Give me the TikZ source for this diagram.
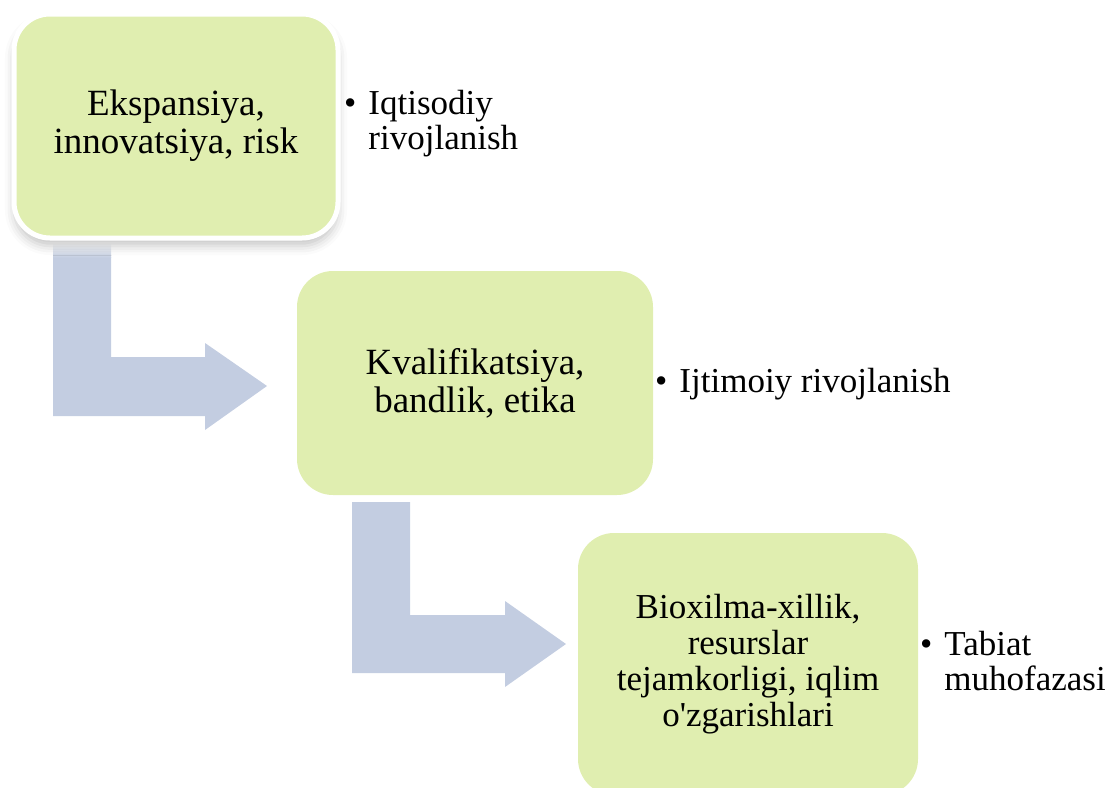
\documentclass[tikz,border=0pt]{standalone}
\usepackage{fontspec}
\setmainfont{Liberation Serif}
\usepackage{tikz}
\usetikzlibrary{shadows.blur}

\definecolor{boxgreen}{RGB}{224,238,176}
\definecolor{arrowblue}{RGB}{195,205,225}

\begin{document}
\begin{tikzpicture}[x=1pt,y=-1pt]
      \useasboundingbox (0,0) rectangle (1105,787);
      \clip (0,0) rectangle (1105,787);

      % bent arrows
      \begin{scope}[fill=arrowblue]
        \fill (53,257) -- (111,257) -- (111,357) -- (205,357) -- (205,343)
          -- (267,386) -- (205,430) -- (205,416) -- (53,416) -- cycle;
        \shade[top color=white,bottom color=arrowblue] (53,243) rectangle (111,257.5);
        \fill (352,502) -- (410,502) -- (410,615) -- (505,615) -- (505,601)
          -- (566,644) -- (505,687) -- (505,673) -- (352,673) -- cycle;
      \end{scope}

      \begin{scope}[every node/.style={rectangle,rounded corners=36pt,fill=boxgreen,
          align=center,inner sep=0pt,font=\fontsize{37}{38}\selectfont}]
        \node[minimum width=324pt,minimum height=224pt,draw=white,line width=5pt,
          blur shadow={shadow xshift=0pt,shadow yshift=-8pt,shadow blur radius=9pt,
          shadow opacity=22}] (eco) at (176,126)
          {Ekspansiya,\\innovatsiya, risk};
        \node[minimum width=356pt,minimum height=224pt] (soc) at (475,383)
          {Kvalifikatsiya,\\bandlik, etika};
        \node[minimum width=340pt,minimum height=262pt,
          font=\fontsize{35}{36}\selectfont] (env) at (748,664)
          {Bioxilma-xillik,\\resurslar\\tejamkorligi, iqlim\\o\textquotesingle zgarishlari};
      \end{scope}

      \begin{scope}[every node/.style={anchor=base west,inner sep=0pt,align=left,
          font=\fontsize{35}{35}\selectfont}]
        \node[] (eco_b) at (344,149) {\textbullet\hspace{12pt}Iqtisodiy\\\phantom{\textbullet}\hspace{12pt}rivojlanish};
        \node[] (soc_b) at (655,392) {\textbullet\hspace{12pt}Ijtimoiy rivojlanish};
        \node[] (env_b) at (920,690) {\textbullet\hspace{12pt}Tabiat\\\phantom{\textbullet}\hspace{12pt}muhofazasi};
      \end{scope}
\end{tikzpicture}
\end{document}
